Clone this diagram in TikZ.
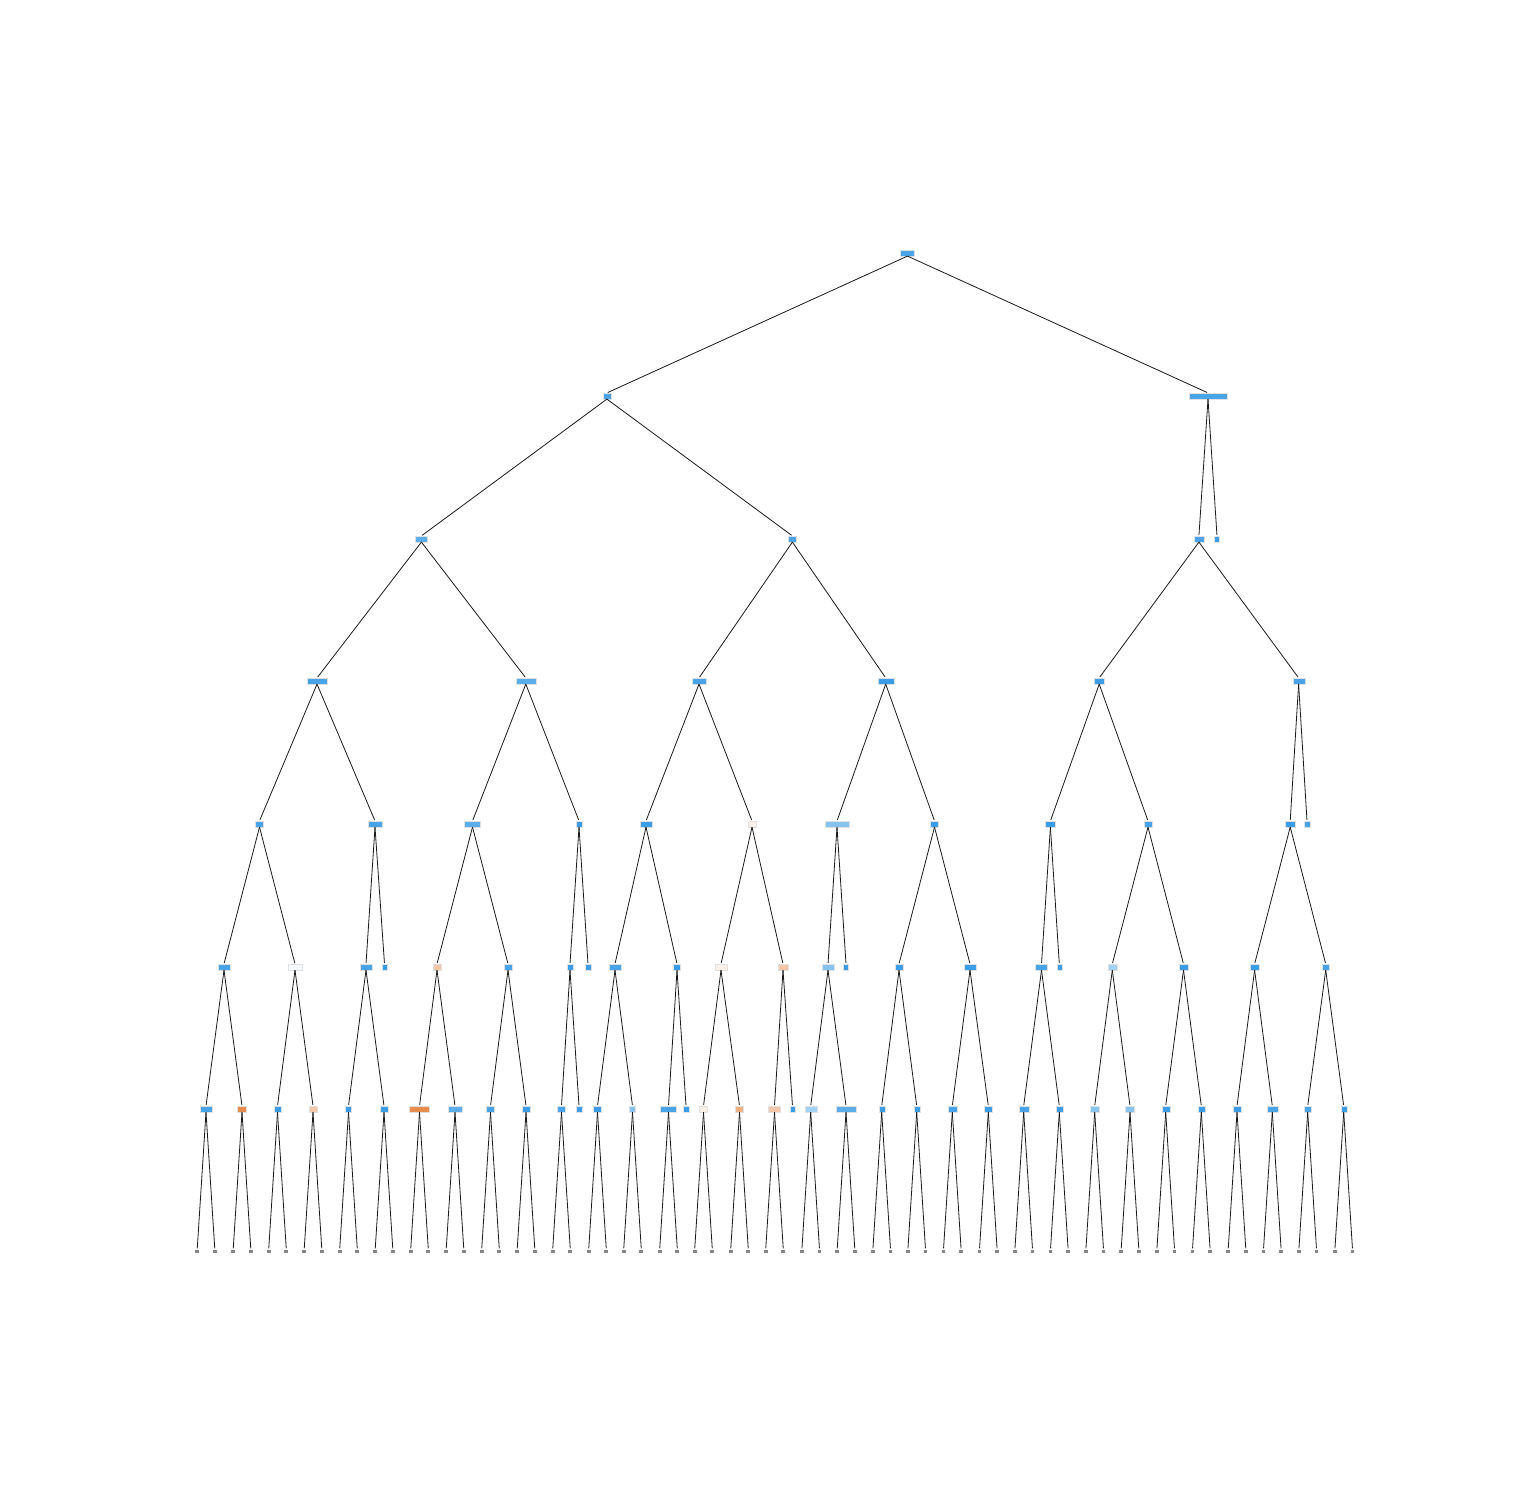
\documentclass[tikz,border=0pt]{standalone}
\definecolor{bA}{HTML}{3A9DE5}
\definecolor{bB}{HTML}{48A4E7}
\definecolor{bC}{HTML}{5AADE9}
\definecolor{bD}{HTML}{86C3EF}
\definecolor{bE}{HTML}{A2D1F3}
\definecolor{wB}{HTML}{F4F9FE}
\definecolor{oB}{HTML}{E78C4A}
\definecolor{oC}{HTML}{EDAE80}
\definecolor{oD}{HTML}{F2C8A8}
\definecolor{oF}{HTML}{FCF1E9}
\tikzset{
  tbox/.style={rectangle, inner sep=0pt, minimum height=6pt, draw=black!12, line width=0.2pt},
  lbox/.style={rectangle, inner sep=0pt, minimum width=3.8pt, minimum height=3pt,
    fill=gray!95, text=black!60, font=\fontsize{1.3}{1.5}\selectfont},
  edge/.style={draw=black!90, line width=0.8pt, shorten >=1pt},
}
\begin{document}
\begin{tikzpicture}[x=1pt,y=-1pt]
\useasboundingbox (0,0) rectangle (1512,1512);
% level 0-3
\node[tbox, minimum width=14pt, fill=bB] (n0-907) at (907.5,253) {};
\foreach \n/\x/\w/\c in {607/606.9/8/bB, 1208/1208/38/bB}
  \node[tbox, minimum width=\w pt, fill=\c] (n1-\n) at (\x,396) {};
\foreach \n/\x/\w/\c in {421/421.4/12/bC, 792/792.4/8/bB, 1199/1198.9/10/bB, 1217/1217/5/bA}
  \node[tbox, minimum width=\w pt, fill=\c] (n2-\n) at (\x,539) {};
\foreach \n/\x/\w/\c in {317/317/20/bB, 526/525.8/20/bC, 699/699/14/bB, 885/885.7/16/bA, 1099/1099.2/10/bA, 1298/1298.6/12/bB}
  \node[tbox, minimum width=\w pt, fill=\c] (n3-\n) at (\x,681) {};
\foreach \n/\x/\w/\c in {260/259.5/8/bB, 375/375/14/bB, 473/472.5/16/bC, 579/579/6/bA, 646/646/12/bA, 752/752/8/oF, 837/837/24/bD, 935/934.5/8/bA, 1050/1050.4/10/bA, 1148/1148/8/bB, 1290/1290.2/10/bA, 1307/1307/6/bB}
  \node[tbox, minimum width=\w pt, fill=\c] (n4-\n) at (\x,824) {};
\foreach \n/\x/\w/\c in {224/224/12/bB, 295/295/14/wB, 366/366/12/bB, 384/384.5/5/bA, 437/437/8/oD, 508/508/8/bB, 570/570/6/bA, 588/588/6/bA, 615/615/12/bB, 677/677/7/bA, 721/721/12/oF, 783/783/10/oD, 828/828/12/bD, 846/846/5/bA, 899/899/8/bA, 970/970/12/bA, 1041/1041.5/12/bB, 1059/1059.3/5/bA, 1112/1112.3/9/bE, 1183/1183.5/9/bA, 1254/1254.6/9/bA, 1325/1325.7/7/bB}
  \node[tbox, minimum width=\w pt, fill=\c] (n5-\n) at (\x,967) {};
\foreach \n/\x/\w/\c/\k in {206/206/12/bB/1, 242/242/9/oB/1, 277/277.5/7/bA/1, 313/313/8/oD/1, 348/348.5/6/bA/1, 384/384/8/bA/1, 419/419.5/20/oB/1, 455/455/14/bC/1, 490/490.5/8/bB/1, 526/526/8/bA/1, 561/561.5/8/bB/1, 579/579/6/bA/0, 597/597.5/8/bA/1, 632/632.5/6/bD/1, 668/668.5/16/bB/1, 686/686/6/bA/0, 703/703.5/8/oF/1, 739/739.5/8/oC/1, 774/774.5/12/oD/1, 792/792.5/5/bA/0, 810/810.7/12/bE/1, 846/846/20/bC/1, 881/881.7/6/bA/1, 917/916.7/6/bA/1, 952/952.3/9/bB/1, 988/988.3/8/bA/1, 1023/1023.7/10/bB/1, 1059/1059.3/7/bA/1, 1094/1094.7/9/bD/1, 1130/1130/9/bD/1, 1165/1165.7/8/bA/1, 1201/1201.3/7/bA/1, 1236/1237/8/bA/1, 1272/1272.3/11/bB/1, 1307/1307.7/7/bB/1, 1343/1343.7/6/bA/1}
{
  \node[tbox, minimum width=\w pt, fill=\c] (n6-\n) at (\x,1109) {};
  \ifnum\k=1
    \node[lbox] (l\n a) at ({\x-8.8},1251) {(...)};
    \node[lbox] (l\n b) at ({\x+8.8},1251) {(...)};
    \draw[edge] (n6-\n.south) -- (l\n a.north);
    \draw[edge] (n6-\n.south) -- (l\n b.north);
  \fi
}
% edges
\foreach \p/\c in {n0-907/n1-607, n0-907/n1-1208,
  n1-607/n2-421, n1-607/n2-792, n1-1208/n2-1199, n1-1208/n2-1217,
  n2-421/n3-317, n2-421/n3-526, n2-792/n3-699, n2-792/n3-885, n2-1199/n3-1099, n2-1199/n3-1298,
  n3-317/n4-260, n3-317/n4-375, n3-526/n4-473, n3-526/n4-579, n3-699/n4-646, n3-699/n4-752,
  n3-885/n4-837, n3-885/n4-935, n3-1099/n4-1050, n3-1099/n4-1148, n3-1298/n4-1290, n3-1298/n4-1307,
  n4-260/n5-224, n4-260/n5-295, n4-375/n5-366, n4-375/n5-384, n4-473/n5-437, n4-473/n5-508,
  n4-579/n5-570, n4-579/n5-588, n4-646/n5-615, n4-646/n5-677, n4-752/n5-721, n4-752/n5-783,
  n4-837/n5-828, n4-837/n5-846, n4-935/n5-899, n4-935/n5-970, n4-1050/n5-1041, n4-1050/n5-1059,
  n4-1148/n5-1112, n4-1148/n5-1183, n4-1290/n5-1254, n4-1290/n5-1325,
  n5-224/n6-206, n5-224/n6-242, n5-295/n6-277, n5-295/n6-313, n5-366/n6-348, n5-366/n6-384,
  n5-437/n6-419, n5-437/n6-455, n5-508/n6-490, n5-508/n6-526, n5-570/n6-561, n5-570/n6-579,
  n5-615/n6-597, n5-615/n6-632, n5-677/n6-668, n5-677/n6-686, n5-721/n6-703, n5-721/n6-739,
  n5-783/n6-774, n5-783/n6-792, n5-828/n6-810, n5-828/n6-846, n5-899/n6-881, n5-899/n6-917,
  n5-970/n6-952, n5-970/n6-988, n5-1041/n6-1023, n5-1041/n6-1059, n5-1112/n6-1094, n5-1112/n6-1130,
  n5-1183/n6-1165, n5-1183/n6-1201, n5-1254/n6-1236, n5-1254/n6-1272, n5-1325/n6-1307, n5-1325/n6-1343}
  \draw[edge] (\p.south) -- (\c.north);
\end{tikzpicture}
\end{document}
